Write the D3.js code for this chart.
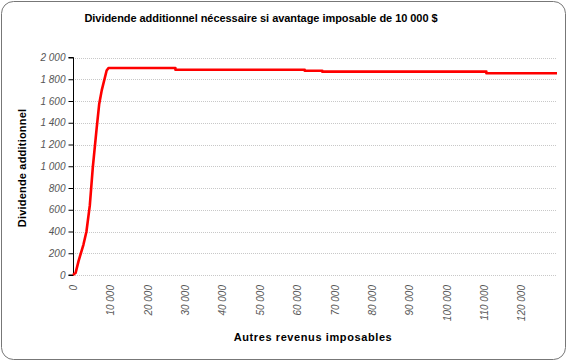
<!DOCTYPE html>
<html><head><meta charset="utf-8">
<script src="https://cdn.jsdelivr.net/npm/d3@7"></script>
<style>
body{margin:0;background:#fff;}
svg{display:block;}
</style></head>
<body>
<script>
const title = "Dividende additionnel nécessaire si avantage imposable de 10 000 $";
const xTitle = "Autres revenus imposables";
const yTitle = "Dividende additionnel";
const incomes = [0, 700, 1500, 2800, 3600, 4500, 5300, 6300, 7000, 7700, 9000, 9500, 27400, 27400, 62000, 62000, 66700, 66700, 110600, 110600, 129500];
const dividends = [0, 20, 130, 280, 400, 640, 990, 1340, 1570, 1700, 1880, 1903, 1903, 1887, 1887, 1878, 1878, 1870, 1870, 1855, 1855];
const xTicks = [0, 10000, 20000, 30000, 40000, 50000, 60000, 70000, 80000, 90000, 100000, 110000, 120000];
const yTicks = [0, 200, 400, 600, 800, 1000, 1200, 1400, 1600, 1800, 2000];

const W = 567, H = 361;
const svg = d3.select("body").append("svg").attr("width", W).attr("height", H);

svg.append("rect").attr("x", 1.5).attr("y", 1.5).attr("width", W - 3).attr("height", H - 3)
  .attr("rx", 12).attr("ry", 12).attr("fill", "#fff").attr("stroke", "#777").attr("stroke-width", 1);

const x = d3.scaleLinear().domain([0, 129500]).range([73, 557]);
const y = d3.scaleLinear().domain([0, 2000]).range([275, 57.5]);

const fmt = v => d3.format(",")(v).replace(/,/g, " ");

// gridlines
svg.append("g").selectAll("line").data(yTicks).join("line")
  .attr("x1", 73).attr("x2", 557)
  .attr("y1", d => Math.round(y(d)) + 0.5).attr("y2", d => Math.round(y(d)) + 0.5)
  .attr("stroke", "#c8c8c8").attr("stroke-width", 1).attr("stroke-dasharray", "1,1");

// y axis
const yAxis = d3.axisLeft(y).tickValues(yTicks).tickFormat(fmt).tickSize(5).tickPadding(3);
const gy = svg.append("g").attr("transform", "translate(73.5,0)").call(yAxis);
gy.select(".domain").attr("stroke", "#000").attr("d", `M-5,${y(2000)}H0V${y(0)}H-5`);
gy.selectAll(".tick line").attr("stroke", "#000");
gy.selectAll("text").attr("font-family", "Liberation Sans, Arial, sans-serif")
  .attr("font-size", 10).attr("font-style", "italic").attr("fill", "#555");

// x axis labels (no line)
const xAxis = d3.axisBottom(x).tickValues(xTicks).tickFormat(fmt).tickSize(0).tickPadding(0);
const gx = svg.append("g").attr("transform", "translate(0,275)").call(xAxis);
gx.select(".domain").remove();
gx.selectAll("text")
  .attr("font-family", "Liberation Sans, Arial, sans-serif")
  .attr("font-size", 10).attr("font-style", "italic").attr("fill", "#555")
  .attr("text-anchor", "end").attr("dy", "0.35em").attr("y", 0)
  .attr("transform", "translate(0,10) rotate(-90)");

// line
const line = d3.line().x((d, i) => x(incomes[i])).y(d => y(d));
svg.append("path").datum(dividends).attr("d", line)
  .attr("fill", "none").attr("stroke", "#ff0000").attr("stroke-width", 2.6).attr("stroke-linejoin", "round");

// titles
svg.append("text").attr("x", 261).attr("y", 22).attr("text-anchor", "middle")
  .attr("font-family", "Liberation Sans, Arial, sans-serif").attr("font-weight", "bold")
  .attr("font-size", 11).attr("letter-spacing", "-0.05px").text(title);
svg.append("text").attr("x", 313).attr("y", 341).attr("text-anchor", "middle")
  .attr("font-family", "Liberation Sans, Arial, sans-serif").attr("font-weight", "bold")
  .attr("font-size", 11).attr("letter-spacing", "0.6px").text(xTitle);
svg.append("text").attr("transform", "translate(26,168) rotate(-90)").attr("text-anchor", "middle")
  .attr("font-family", "Liberation Sans, Arial, sans-serif").attr("font-weight", "bold")
  .attr("font-size", 11).attr("letter-spacing", "0.2px").text(yTitle);
</script>
</body></html>
